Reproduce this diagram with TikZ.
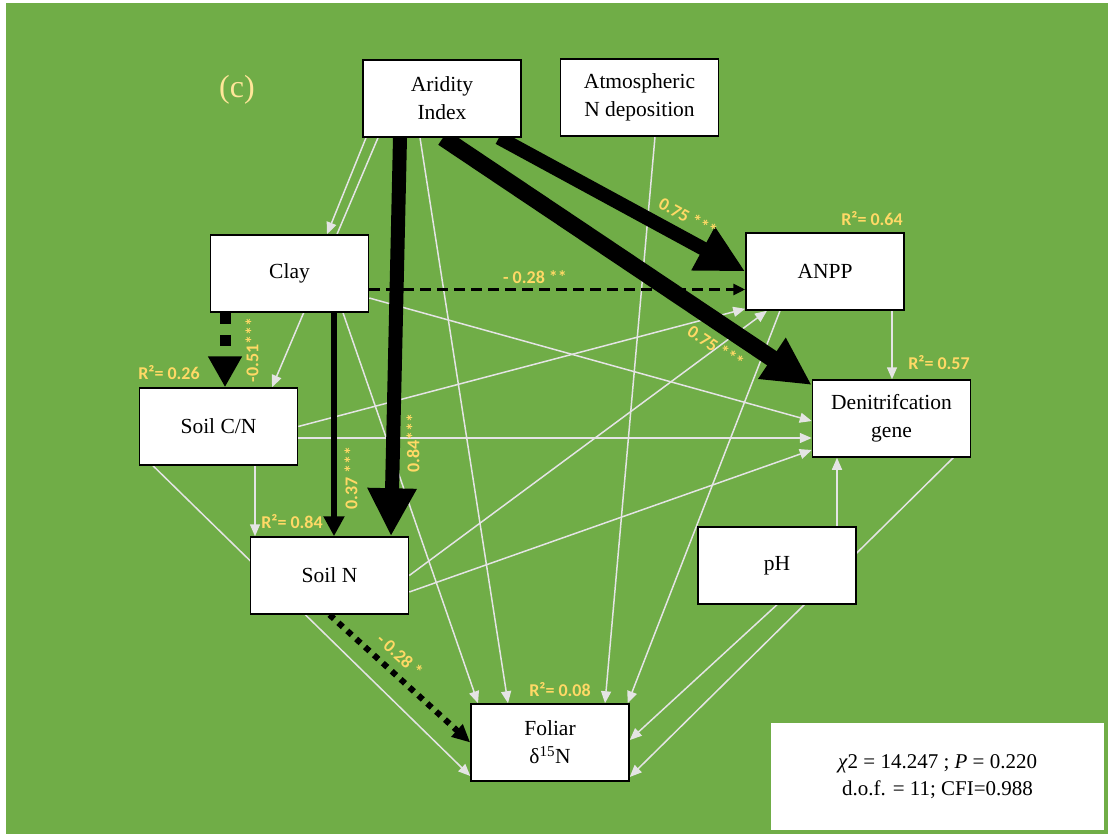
\documentclass[tikz,border=0pt]{standalone}
\usepackage{fontspec}
\setmainfont{Liberation Serif}
\newfontfamily\lblfont{Carlito}
\usetikzlibrary{arrows.meta,calc}
\definecolor{bggreen}{HTML}{70AD47}
\definecolor{lblyel}{HTML}{FFD966}
\definecolor{cyel}{HTML}{FFE699}
\definecolor{thincol}{HTML}{E4E4E4}
\pgfdeclarelayer{bgl}
\pgfdeclarelayer{edges}
\pgfsetlayers{bgl,edges,main}
\begin{document}
\begin{tikzpicture}[x=1pt,y=-1pt,
  varbox/.style={draw=black,line width=1.5pt,fill=white,minimum width=158pt,minimum height=77pt,inner sep=0pt,align=center,font=\fontsize{21.5}{28}\selectfont},
  thinarrow/.style={draw=thincol,line width=1.5pt,-{Triangle[length=12pt,width=10pt,fill=thincol]}},
  thickarrow/.style={draw=black,line width=14pt,-{Triangle[length=48pt,width=46pt]}},
  lbl/.style={text=lblyel,inner sep=0pt,font=\lblfont\bfseries\fontsize{18}{20}\selectfont}
]
\useasboundingbox (0,0) rectangle (1108,834);
\begin{pgfonlayer}{bgl}
  \fill[white] (0,0) rectangle (1108,834);
  \fill[bggreen] (6,3) rectangle (1108,834);
\end{pgfonlayer}

% nodes
\node[varbox] (arid)  at (442,98.5)   {Aridity\\Index};
\node[varbox] (atm)   at (639.5,97.5) {Atmospheric\\N deposition};
\node[varbox] (clay)  at (289.5,273.5) {Clay};
\node[varbox] (cn)    at (218.5,426.5) {Soil C/N};
\node[varbox] (anpp)  at (825,271.5)  {ANPP};
\node[varbox] (den)   at (891.5,418.5) {Denitrifcation\\gene};
\node[varbox] (soiln) at (329.5,575.5) {Soil N};
\node[varbox] (ph)    at (777,565.5)  {pH};
\node[varbox] (fol)   at (550,742.5)  {Foliar\\δ\textsuperscript{15}N};
\node[fill=white,minimum width=333pt,minimum height=107pt,inner sep=0pt,align=center,
      font=\fontsize{21}{27}\selectfont] (stats) at (937.5,776.5)
      {\textit{χ}2 = 14.247 ; \textit{P} = 0.220\\d.o.f. = 11; CFI=0.988};
\node[text=cyel,font=\fontsize{32}{34}\selectfont,inner sep=0pt] (tag) at (237,90) {(c)};

\begin{pgfonlayer}{edges}
  % thin paths
  \draw[thinarrow] ([xshift=-76pt]arid.south) -- ([xshift=37.5pt]clay.north);
  \draw[thinarrow] ([xshift=-64pt]arid.south) -- ([xshift=53.5pt]cn.north);
  \draw[thinarrow] ([xshift=-22pt]arid.south) -- ([xshift=-42pt]fol.north);
  \draw[thinarrow] ([xshift=15.5pt]atm.south) -- ([xshift=55pt]fol.north);
  \draw[thinarrow] ([yshift=-24.5pt]clay.east) -- ([yshift=-2.5pt]den.west);
  \draw[thinarrow] ([xshift=53.5pt]clay.south) -- ([xshift=-72pt]fol.north);
  \draw[thinarrow] (cn.east) -- ([yshift=2pt]anpp.south west);
  \draw[thinarrow] ([yshift=-11.5pt]cn.east) -- ([yshift=-11.5pt]cn.east -| den.west);
  \draw[thinarrow] ([xshift=36.5pt]cn.south) -- ([xshift=36.5pt]cn.south |- soiln.north);
  \draw[thinarrow] ([xshift=-65.5pt]cn.south) -- ([yshift=-33.5pt]fol.west);
  \draw[thinarrow] (soiln.east) -- ([xshift=-58pt]anpp.south);
  \draw[thinarrow] ([yshift=-16.5pt]soiln.east) -- ([yshift=-31.5pt]den.west);
  \draw[thinarrow] ([xshift=67pt]anpp.south) -- ([xshift=67pt]anpp.south |- den.north);
  \draw[thinarrow] ([xshift=-45pt]anpp.south) -- ([xshift=-2pt]fol.north east);
  \draw[thinarrow] ([xshift=-18pt]den.south east) -- ([yshift=-34.5pt]fol.east);
  \draw[thinarrow] (ph.south) -- ([yshift=2.5pt]fol.east);
  \draw[thinarrow] ([xshift=60pt]ph.north) -- ([xshift=60pt]ph.north |- den.south);
  % black paths
  \draw[draw=black,line width=3.5pt,dash pattern=on 11pt off 6pt,-{Triangle[length=12pt,width=11pt]}]
    ([yshift=-16pt]clay.east) -- ([yshift=-16pt]clay.east -| anpp.west);
  \draw[draw=black,line width=11pt,dash pattern=on 11pt off 11pt,-{Triangle[length=31pt,width=32pt]}]
    ([xshift=-64.5pt]clay.south) -- ([xshift=-64.5pt]clay.south |- cn.north);
  \draw[draw=black,line width=6pt,-{Triangle[length=20pt,width=20pt]}]
    ([xshift=44.5pt]clay.south) -- ([xshift=44.5pt]clay.south |- soiln.north);
  \draw[draw=black,line width=6pt,dash pattern=on 6pt off 6pt,-{Triangle[length=18pt,width=16pt]}]
    (soiln.south) -- (fol.west);
  \draw[thickarrow] ([xshift=-42pt]arid.south) -- ([xshift=61.5pt]soiln.north);
  \draw[thickarrow] ([xshift=57pt]arid.south) -- (anpp.west);
  \draw[thickarrow,line width=17pt] ([xshift=1pt]arid.south) -- ([yshift=33.5pt]den.west);
\end{pgfonlayer}

% labels
\node[lbl] (r64) at (872,219) {R²= 0.64};
\node[lbl] (r57) at (939,363) {R²= 0.57};
\node[lbl] (r26) at (169,373) {R²= 0.26};
\node[lbl] (r84) at (292,522) {R²= 0.84};
\node[lbl] (r08) at (560,690) {R²= 0.08};
\node[lbl,rotate=-28.7] (l1) at (688,217) {0.75 ***};
\node[lbl,rotate=-33.9] (l2) at (716,347) {0.75 ***};
\node[lbl] (l3) at (535,277) {- 0.28 **};
\node[lbl,rotate=90] (l4) at (252,350) {-0.51***};
\node[lbl,rotate=90] (l5) at (351,478) {0.37 ***};
\node[lbl,rotate=90] (l6) at (413,443) {0.84***};
\node[lbl,rotate=-42] (l7) at (400,655) {- 0.28 *};
\end{tikzpicture}
\end{document}
